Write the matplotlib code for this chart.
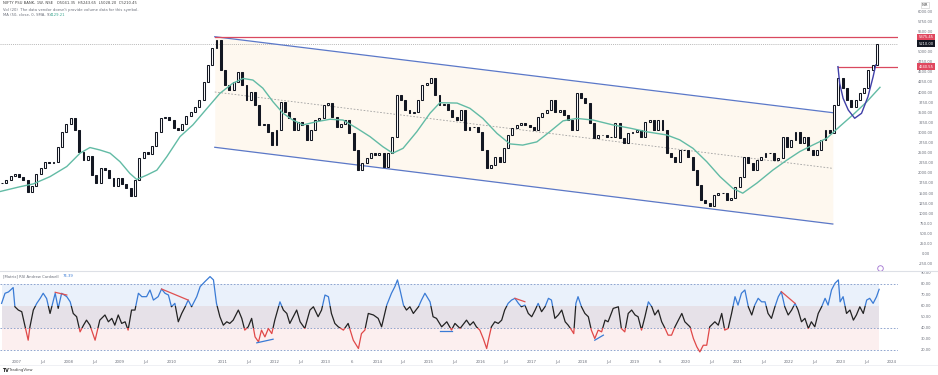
import numpy as np
import matplotlib.pyplot as plt
from matplotlib.patches import Rectangle

# monthly closes, index 0 = Sep 2006
start_year, start_month = 2006, 9
closes = [1760, 1840, 1940, 1990, 1910, 1840, 1540, 1690, 1990, 2130,
          2280, 2260, 2280, 2650, 3030, 3220, 3370, 3070, 2530, 2330,
          2430, 1960, 1760, 2130, 2080, 1890, 1690, 1890, 1740, 1640,
          1440, 1840, 2380, 2530, 2480, 2680, 3030, 3370, 3400, 3320,
          3120, 3070, 3220, 3420, 3520, 3640, 3820, 4260, 4680, 5100,
          5300, 4560, 4190, 4060, 4260, 4510, 4190, 3820, 4020, 3690,
          3200, 3220, 3030, 2700, 3070, 3770, 3520, 3370, 3070, 3270,
          3200, 2830, 3070, 3320, 3370, 3690, 3740, 3400, 3150, 3220,
          3320, 3000, 2580, 2080, 2260, 2380, 2510, 2460, 2510, 2160,
          2510, 2900, 3940, 3820, 3570, 3500, 3520, 3820, 4190, 4240,
          4360, 3940, 3690, 3720, 3570, 3400, 3320, 3570, 3070, 3150,
          3150, 3030, 2580, 2130, 2210, 2410, 2280, 2630, 2950, 3120,
          3200, 3250, 3200, 3150, 3070, 3400, 3500, 3570, 3820, 3520,
          3570, 3450, 3320, 3070, 3990, 3870, 3740, 3250, 2880, 2950,
          2950, 2900, 2900, 3250, 2880, 2750, 3000, 3030, 3070, 2900,
          3270, 3320, 3070, 3320, 3070, 2510, 2410, 2280, 2580, 2580,
          2410, 2080, 1710, 1340, 1270, 1190, 1470, 1520, 1520, 1340,
          1390, 1660, 1910, 2410, 2260, 2080, 2330, 2410, 2510, 2510,
          2330, 2380, 2900, 2650, 2830, 3030, 2750, 2900, 2580, 2460,
          2580, 2830, 3070, 3000, 3690, 4360, 4110, 3820, 3640, 3820,
          3990, 4110, 4560, 4680, 5210]

# moving average (50 week) read at sample points
ma_t = [-0.5, 4.2, 7.3, 11.2, 15.1, 18.2, 20.5, 22.8, 25.2, 27.5,
        29.8, 31.4, 33.8, 36.1, 38.4, 41.5, 44.5, 47.8, 50.8, 53.8,
        56.2, 58.5, 60.8, 63.2, 65.5, 67.8, 70.2, 73.4, 76.5, 79.5,
        82.7, 85.8, 88.8, 91.1, 93.5, 96.7, 99.8, 102.1, 106.1, 109.1,
        112.1, 115.4, 118.4, 121.4, 124.7, 127.7, 130.8, 134.0, 137.8, 142.4,
        146.4, 150.3, 155.0, 158.0, 161.1, 164.3, 167.4, 170.4, 172.7, 176.0,
        179.7, 183.0, 186.0, 189.0, 192.3, 195.3, 198.4, 201.6, 204.7]
ma_v = [1550, 1670, 1740, 1920, 2170, 2500, 2640, 2580, 2500, 2290,
        2000, 1850, 1960, 2080, 2410, 2910, 3200, 3610, 3980, 4230,
        4350, 4310, 4110, 3770, 3490, 3320, 3200, 3280, 3340, 3320,
        3120, 2910, 2660, 2500, 2620, 3030, 3490, 3750, 3740, 3610,
        3360, 2990, 2730, 2700, 2780, 3030, 3300, 3360, 3320, 3200,
        3120, 3030, 2950, 2830, 2620, 2290, 1920, 1630, 1510, 1760,
        2080, 2330, 2540, 2700, 2870, 3160, 3450, 3770, 4130]

# RSI (Andrew Cardwell) samples
rsi_t = [-0.1, 0.7, 1.5, 2.6, 3.0, 3.8, 4.6, 5.4, 6.1, 6.5,
         7.3, 8.1, 8.9, 9.6, 10.4, 11.2, 12.4, 13.1, 13.9, 15.1,
         15.9, 16.6, 17.4, 18.2, 19.0, 19.7, 20.5, 21.7, 22.8, 24.0,
         24.8, 25.6, 26.3, 27.1, 27.9, 28.7, 29.4, 30.2, 31.0, 31.8,
         32.6, 33.7, 34.5, 35.3, 36.4, 37.2, 38.0, 38.8, 39.5, 40.3,
         41.1, 41.9, 42.7, 43.4, 44.2, 45.4, 46.2, 47.3, 48.5, 49.3,
         50.0, 50.8, 51.6, 52.4, 53.1, 53.9, 55.1, 55.9, 56.6, 57.4,
         58.2, 59.0, 59.8, 60.5, 61.3, 62.1, 62.9, 63.6, 64.8, 65.6,
         66.4, 67.1, 67.9, 68.7, 69.5, 70.6, 71.8, 72.6, 73.7, 74.5,
         75.3, 76.1, 76.8, 77.6, 78.4, 79.6, 80.7, 81.9, 83.1, 83.8,
         84.6, 85.4, 86.6, 87.7, 88.5, 89.7, 90.8, 91.6, 92.2, 92.8,
         93.6, 94.3, 95.1, 95.9, 97.1, 97.8, 98.6, 99.8, 100.5, 101.3,
         102.5, 103.7, 104.8, 105.6, 106.8, 108.3,
         109.1, 109.9, 110.6, 111.4, 112.2, 113.0, 113.4, 114.1, 114.9, 115.7,
         116.5, 117.2, 118.0, 118.8, 119.6, 120.4, 121.1, 121.9, 122.7, 123.5,
         124.3, 125.0, 125.8, 126.6, 127.4, 128.1, 128.9, 129.7, 130.5, 131.3,
         132.0, 132.8, 133.3, 133.8, 134.3, 135.1, 135.9, 136.7, 137.4, 138.2,
         139.0, 139.8, 140.6, 141.3, 142.5, 143.7, 144.4, 145.2, 146.0, 146.8,
         147.6, 148.3, 149.1, 149.9, 150.7, 151.5, 152.2, 153.0, 153.8, 154.6,
         155.3, 156.1, 156.9, 157.7, 158.5, 159.2, 160.4, 161.2, 162.0, 162.7,
         163.5, 164.3, 165.0, 166.2, 167.0, 167.8, 168.5, 169.3, 170.1, 170.9,
         171.6, 172.4, 173.2, 174.0, 174.8, 175.5, 176.3, 177.1, 177.9, 178.6,
         179.4, 180.2, 181.0, 181.7, 182.5, 183.3, 184.1, 184.9, 185.6, 186.4,
         187.2, 188.0, 188.7, 189.5, 190.3, 191.1, 191.9, 192.6, 193.4, 194.2,
         195.0, 195.4, 196.1, 196.9, 197.7, 198.5, 199.2, 200.0, 200.8, 201.6,
         202.3, 203.1, 203.9, 204.5]
rsi_v = [62.6, 71.8, 73.0, 77.0, 59.5, 56.5, 55.0, 41.2, 29.0, 41.0,
         56.5, 62.6, 67.2, 71.8, 67.0, 53.4, 71.8, 58.0, 71.8, 68.7,
         64.0, 53.4, 50.4, 36.6, 42.7, 47.3, 42.7, 29.0, 47.3, 52.0,
         45.8, 48.9, 42.7, 52.0, 44.3, 45.8, 38.2, 56.5, 56.5, 71.8,
         68.7, 68.7, 74.8, 65.6, 68.7, 75.7, 71.8, 70.2, 59.5, 62.6,
         45.8, 53.4, 59.5, 65.6, 59.5, 68.7, 77.9, 82.4, 87.0, 84.0,
         62.6, 50.4, 42.7, 45.8, 44.3, 47.3, 56.5, 48.9, 38.2, 41.2,
         48.9, 32.0, 27.5, 38.2, 32.0, 39.7, 35.0, 47.3, 64.0, 56.5,
         53.4, 44.3, 50.4, 56.5, 45.8, 39.7, 56.5, 59.5, 50.4, 56.5,
         70.2, 68.7, 53.4, 44.3, 41.2, 38.2, 44.3, 29.0, 21.4, 35.0,
         38.2, 53.4, 52.0, 48.9, 41.2, 61.0, 71.8, 77.9, 84.0, 74.8,
         61.0, 56.5, 59.5, 53.4, 59.5, 65.6, 71.8, 64.0, 50.4, 48.9,
         41.2, 45.8, 38.2, 44.3, 39.7, 47.3,
         42.7, 45.8, 41.2, 38.2, 30.5, 21.4, 29.0, 41.2, 45.8, 44.3,
         47.3, 56.5, 62.6, 65.6, 67.2, 62.6, 59.5, 61.0, 53.4, 50.4,
         56.5, 62.6, 55.0, 59.5, 67.2, 65.6, 48.9, 52.0, 56.5, 45.8,
         42.7, 38.2, 35.0, 62.6, 68.7, 59.5, 53.4, 50.4, 38.2, 30.5,
         38.2, 36.6, 47.3, 45.8, 58.0, 59.5, 39.7, 36.6, 53.4, 56.5,
         52.0, 50.4, 38.2, 50.4, 64.0, 59.5, 52.0, 56.5, 45.8, 39.7,
         33.6, 33.6, 41.2, 47.3, 53.4, 45.8, 41.2, 30.5, 22.9, 18.3,
         24.4, 24.4, 41.2, 45.8, 42.7, 53.4, 38.2, 39.7, 53.4, 68.7,
         61.0, 71.8, 74.8, 59.5, 52.0, 61.0, 67.2, 64.0, 64.0, 53.4,
         48.9, 59.5, 68.7, 73.3, 59.5, 52.0, 56.5, 62.6, 56.5, 45.8,
         48.9, 39.7, 45.8, 41.2, 53.4, 59.5, 67.2, 61.0, 74.8, 80.9,
         84.0, 64.0, 68.7, 53.4, 56.5, 47.3, 52.0, 59.5, 53.4, 65.6,
         67.2, 62.6, 68.7, 75.4]

# drawings
channel_t = [49.6, 193.7]
channel_upper = [5383, 3502]
channel_lower = [2646, 747]
top_level = 5375.45
break_level = 4640.55
cup_t = [194.9, 195.3, 196.1, 197.3, 198.8, 200.4, 201.9, 203.1, 203.7]
cup_v = [4641, 4230, 3858, 3569, 3364, 3487, 3898, 4393, 4683]

div_t = [(12.4, 15.1), (37.2, 43.4), (59.4, 63.2), (102.1, 104.8),
         (119.6, 121.9), (138.2, 140.2), (181.7, 184.9)]
div_v = [(72.7, 70.2), (75.7, 65.6), (26.6, 29.9), (37.3, 37.3),
         (67.2, 64.1), (29.0, 33.6), (73.3, 62.6)]
div_kind = ['bear', 'bear', 'bull', 'bull', 'bear', 'bull', 'bear']

tick_dates = ['2007-01', '2007-07', '2008-01', '2008-07', '2009-01', '2009-07',
              '2010-01', '2011-01', '2011-07', '2012-01', '2012-07', '2013-01',
              '2013-07', '2014-01', '2014-07', '2015-01', '2015-07', '2016-01',
              '2016-07', '2017-01', '2017-07', '2018-01', '2018-07', '2019-01',
              '2019-07', '2020-01', '2020-07', '2021-01', '2021-07', '2022-01',
              '2022-07', '2023-01', '2023-07', '2024-01']
tick_text = ['2007', 'Jul', '2008', 'Jul', '2009', 'Jul', '2010', '2011', 'Jul',
             '2012', 'Jul', '2013', '6', '2014', 'Jul', '2015', 'Jul', '2016',
             'Jul', '2017', 'Jul', '2018', 'Jul', '2019', '6', '2020', 'Jul',
             '2021', 'Jul', '2022', 'Jul', '2023', 'Jul', '2024']

price_ticks = list(range(-250, 6001, 250))
rsi_ticks = [20, 30, 40, 50, 60, 70, 80, 90]


def month_pos(s):
    y, m = map(int, s.split('-'))
    return (y - start_year) * 12 + (m - start_month) - 0.5


W, H = 938, 375
fig = plt.figure(figsize=(W / 100, H / 100), dpi=100)


def px(x0, y0, x1, y1):
    return [x0 / W, 1 - y1 / H, (x1 - x0) / W, (y1 - y0) / H]


ax = fig.add_axes(px(0, 0, 898, 270))
ar = fig.add_axes(px(0, 272, 898, 355))
xlim = (-0.47, 208.9)
for a in (ax, ar):
    a.set_xlim(*xlim)
    for s in a.spines.values():
        s.set_visible(False)
    a.set_yticks([])
ax.set_xticks([])
ax.set_ylim(-391, 6291)
ar.set_ylim(15.5, 91.2)

txt = '#6b6f7a'

# ---- price pane ----
ax.fill_between(channel_t, channel_lower, channel_upper, color='#fef8ef', lw=0, zorder=0)
ax.plot(channel_t, channel_upper, color='#5b78c8', lw=0.9, zorder=2)
ax.plot(channel_t, channel_lower, color='#5b78c8', lw=0.9, zorder=2)
mid = (np.array(channel_upper) + np.array(channel_lower)) / 2
ax.plot(channel_t, mid, color='#a0a0a0', lw=0.6, ls=(0, (2, 2)), zorder=2)

ax.plot([channel_t[0], xlim[1]], [top_level] * 2, color='#d9485f', lw=0.9, zorder=2)
ax.plot([cup_t[0], xlim[1]], [break_level] * 2, color='#d9485f', lw=0.9, zorder=2)
ax.axhline(closes[-1], color='#a0a0a0', lw=0.5, ls=(0, (1.5, 1.5)), zorder=1)

ax.plot(ma_t, ma_v, color='#62bba5', lw=1.0, zorder=4)
ax.plot(cup_t, cup_v, color='#4040a8', lw=1.0, zorder=4)

t = np.arange(len(closes))
c = np.array(closes, float)
o = np.r_[c[0], c[:-1]]
up = c >= o
ax.bar(t[up], (c - o)[up], bottom=o[up], width=0.45, color='white',
       edgecolor='#131722', linewidth=0.75, zorder=3)
ax.bar(t[~up], (c - o)[~up], bottom=o[~up], width=0.45, color='#131722',
       edgecolor='#131722', linewidth=0.75, zorder=3)

# right price scale
ytr = ax.get_yaxis_transform()
for v in price_ticks:
    ax.text(1.031, v, f'{v:.2f}', transform=ytr, fontsize=2.6, color=txt,
            ha='center', va='center', clip_on=False)
for lvl, col in ((top_level, '#e0485f'), (break_level, '#e0485f'), (closes[-1], '#131722')):
    ax.text(1.031, lvl, f'{lvl:.2f}', transform=ytr, fontsize=2.6, color='white',
            ha='center', va='center', clip_on=False, zorder=7,
            bbox=dict(boxstyle='square,pad=0.35', fc=col, ec='none'))
ax.plot([204.7], [-330], marker='o', ms=4, mfc='white', mec='#a070d0', mew=0.6,
        clip_on=False, zorder=6)

# ---- RSI pane ----
x0, x1 = 0, rsi_t[-1]
ar.fill_between([x0, x1], 60, 80, color='#eaf1fb', lw=0, zorder=0)
ar.fill_between([x0, x1], 40, 60, color='#e6e1e8', lw=0, zorder=0)
ar.fill_between([x0, x1], 20, 40, color='#fcefef', lw=0, zorder=0)
for lv in (80, 40, 20):
    ar.axhline(lv, color='#7f98c8', lw=0.6, ls=(0, (2, 2)), zorder=1)

bands = [(60, 100, '#3a7bd5'), (40, 60, '#222222'), (0, 40, '#e04848')]
for lo, hi, col in bands:
    ln, = ar.plot(rsi_t, rsi_v, color=col, lw=0.9, zorder=3)
    ln.set_clip_path(Rectangle((xlim[0], lo), xlim[1] - xlim[0], hi - lo,
                               transform=ar.transData))

for (ta, tb), (va, vb), k in zip(div_t, div_v, div_kind):
    ar.plot([ta, tb], [va, vb], color='#e05050' if k == 'bear' else '#3a7bd5',
            lw=0.9, zorder=4)

rtr = ar.get_yaxis_transform()
for v in rsi_ticks:
    ar.text(1.031, v, f'{v:.2f}', transform=rtr, fontsize=2.6, color=txt,
            ha='center', va='center', clip_on=False)

ar.set_xticks([month_pos(d) for d in tick_dates])
ar.set_xticklabels(tick_text, fontsize=2.8, color=txt)
ar.tick_params(axis='x', length=0, pad=3.5)

# ---- legend texts and frame ----
fig.text(3 / W, 1 - 3.5 / H,
         'NIFTY PSU BANK, 1W, NSE   O5041.35  H5243.65  L5028.20  C5210.45',
         fontsize=2.7, color='#444', va='center')
fig.text(3 / W, 1 - 9.5 / H,
         "Vol (20)  The data vendor doesn't provide volume data for this symbol.",
         fontsize=2.7, color=txt, va='center')
fig.text(3 / W, 1 - 15.5 / H, 'MA (50, close, 0, SMA, 9)', fontsize=2.7, color=txt, va='center')
fig.text(50 / W, 1 - 15.5 / H, '4129.21', fontsize=2.7, color='#3aa890', va='center')
fig.text(3 / W, 1 - 276 / H, '[Matrix] RSI Andrew Cardwell', fontsize=2.7, color=txt, va='center')
fig.text(63 / W, 1 - 276 / H, '74.39', fontsize=2.7, color='#3a7bd5', va='center')
fig.text(925 / W, 1 - 5 / H, 'INR', fontsize=2.6, color='#333', ha='center', va='center',
         bbox=dict(boxstyle='square,pad=0.3', fc='white', ec='#c8c8c8', lw=0.4))
fig.text(2 / W, 1 - 370 / H, 'TV', fontsize=3.4, fontweight='bold', color='#222', va='center')
fig.text(9 / W, 1 - 370 / H, 'TradingView', fontsize=2.8, color='#444', va='center')

fig.add_artist(plt.Line2D([0, 1], [1 - 271 / H] * 2, color='#dde0e6', lw=0.8))
fig.add_artist(plt.Line2D([0, 1], [1 - 365 / H] * 2, color='#eceef2', lw=0.6))

fig.savefig('out.png', dpi=100, facecolor='white')
